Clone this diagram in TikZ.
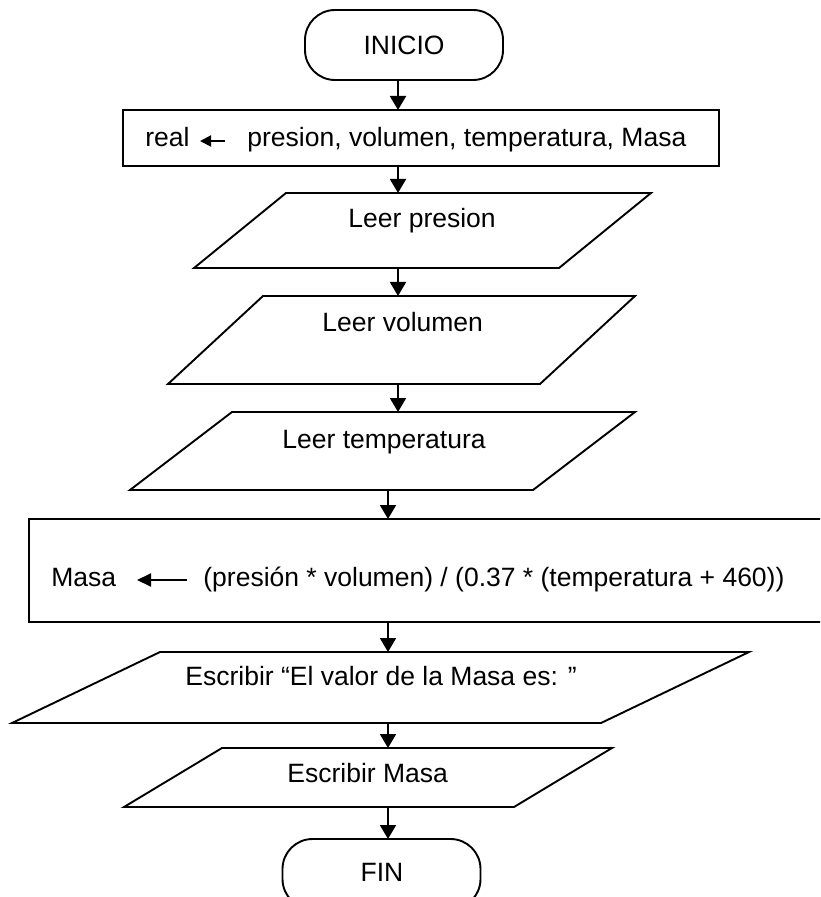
\documentclass[tikz,border=0pt]{standalone}
\usepackage{fontspec}
\setmainfont{Liberation Sans}
\usetikzlibrary{arrows.meta,calc}
\begin{document}
\begin{tikzpicture}[x=0.5pt,y=-0.5pt,
  outline/.style={draw=black,line width=0.95pt},
  flow/.style={draw=black,line width=0.95pt,-{Triangle[length=7pt,width=8pt]}},
  assign/.style={draw=black,line width=0.95pt,-{Triangle[length=#1,width=#1]}},
  label/.style={font=\fontsize{13.25pt}{15pt}\selectfont,inner sep=0pt,anchor=base west},
  slot/.style={inner sep=0pt,outer sep=0pt,minimum width=#1},
  terminal/.style={outline,rounded corners=15pt,inner sep=0pt,outer sep=0pt,
    minimum width=99pt,minimum height=35pt,font=\fontsize{13.25pt}{15pt}\selectfont}]

\useasboundingbox (0,0) rectangle (820,897);
\clip (0,0) rectangle (820,897);

% flow axes
\coordinate (axisA) at (398,0);
\coordinate (axisB) at (388,0);

% start / end terminals
\node[terminal] (inicio) at (404,45) {INICIO};
\node[terminal] (fin) at (381.5,874) {};
\node[label,anchor=base] (fintxt) at (382,881) {FIN};

% declaration box
\node[outline,slot=298pt,minimum height=28pt] (decl) at (421,138) {};
\node[label] (real) at (145,147) {real};
\node[label] (vars) at (247,147) {presion, volumen, temperatura, Masa};
\coordinate (declS) at (225,141);
\coordinate (declE) at (200,141);
\draw[assign=5.5pt] (declS) -- (declE);

% input parallelograms
\node[slot=228.5pt,minimum height=37.5pt] (p1) at (422.5,230.5) {};
\draw[outline] ($(p1.north west)+(92,0)$) -- (p1.north east)
  -- ($(p1.south east)+(-92,0)$) -- (p1.south west) -- cycle;
\node[label] (t1) at (348,228) {Leer presion};

\node[slot=233.5pt,minimum height=44pt] (p2) at (401.5,340) {};
\draw[outline] ($(p2.north west)+(95,0)$) -- (p2.north east)
  -- ($(p2.south east)+(-95,0)$) -- (p2.south west) -- cycle;
\node[label] (t2) at (322,332) {Leer volumen};

\node[slot=252.5pt,minimum height=39pt] (p3) at (382.5,451) {};
\draw[outline] ($(p3.north west)+(102,0)$) -- (p3.north east)
  -- ($(p3.south east)+(-102,0)$) -- (p3.south west) -- cycle;
\node[label] (t3) at (282,448) {Leer temperatura};

% computation box
\node[outline,slot=396.5pt,minimum height=51.5pt] (calc) at (425.5,570.5) {};
\node[label] (masa) at (51,586) {Masa};
\node[label] (formula) at (203,586) {(presión * volumen) / (0.37 * (temperatura + 460))};
\coordinate (calcS) at (187,580);
\coordinate (calcE) at (137,580);
\draw[draw=black,line width=0.95pt,-{Triangle[length=7pt,width=6.5pt]}] (calcS) -- (calcE);

% output parallelograms
\node[slot=368.5pt,minimum height=35.5pt] (p4) at (380.5,687.5) {};
\draw[outline] ($(p4.north west)+(148,0)$) -- (p4.north east)
  -- ($(p4.south east)+(-148,0)$) -- (p4.south west) -- cycle;
\node[label] (t4) at (185,685) {Escribir “El valor de la Masa es: ”};

\node[slot=244pt,minimum height=29.5pt] (p5) at (368,777.5) {};
\draw[outline] ($(p5.north west)+(98,0)$) -- (p5.north east)
  -- ($(p5.south east)+(-98,0)$) -- (p5.south west) -- cycle;
\node[label] (t5) at (287,782) {Escribir Masa};

% connectors
\draw[flow] (inicio.south -| axisA) -- (decl.north -| axisA);
\draw[flow] (decl.south -| axisA) -- (p1.north -| axisA);
\draw[flow] (p1.south -| axisA) -- (p2.north -| axisA);
\draw[flow] (p2.south -| axisA) -- (p3.north -| axisA);
\draw[flow] (p3.south -| axisB) -- (calc.north -| axisB);
\draw[flow] (calc.south -| axisB) -- (p4.north -| axisB);
\draw[flow] (p4.south -| axisB) -- (p5.north -| axisB);
\draw[flow] (p5.south -| axisB) -- (fin.north -| axisB);
\end{tikzpicture}
\end{document}
